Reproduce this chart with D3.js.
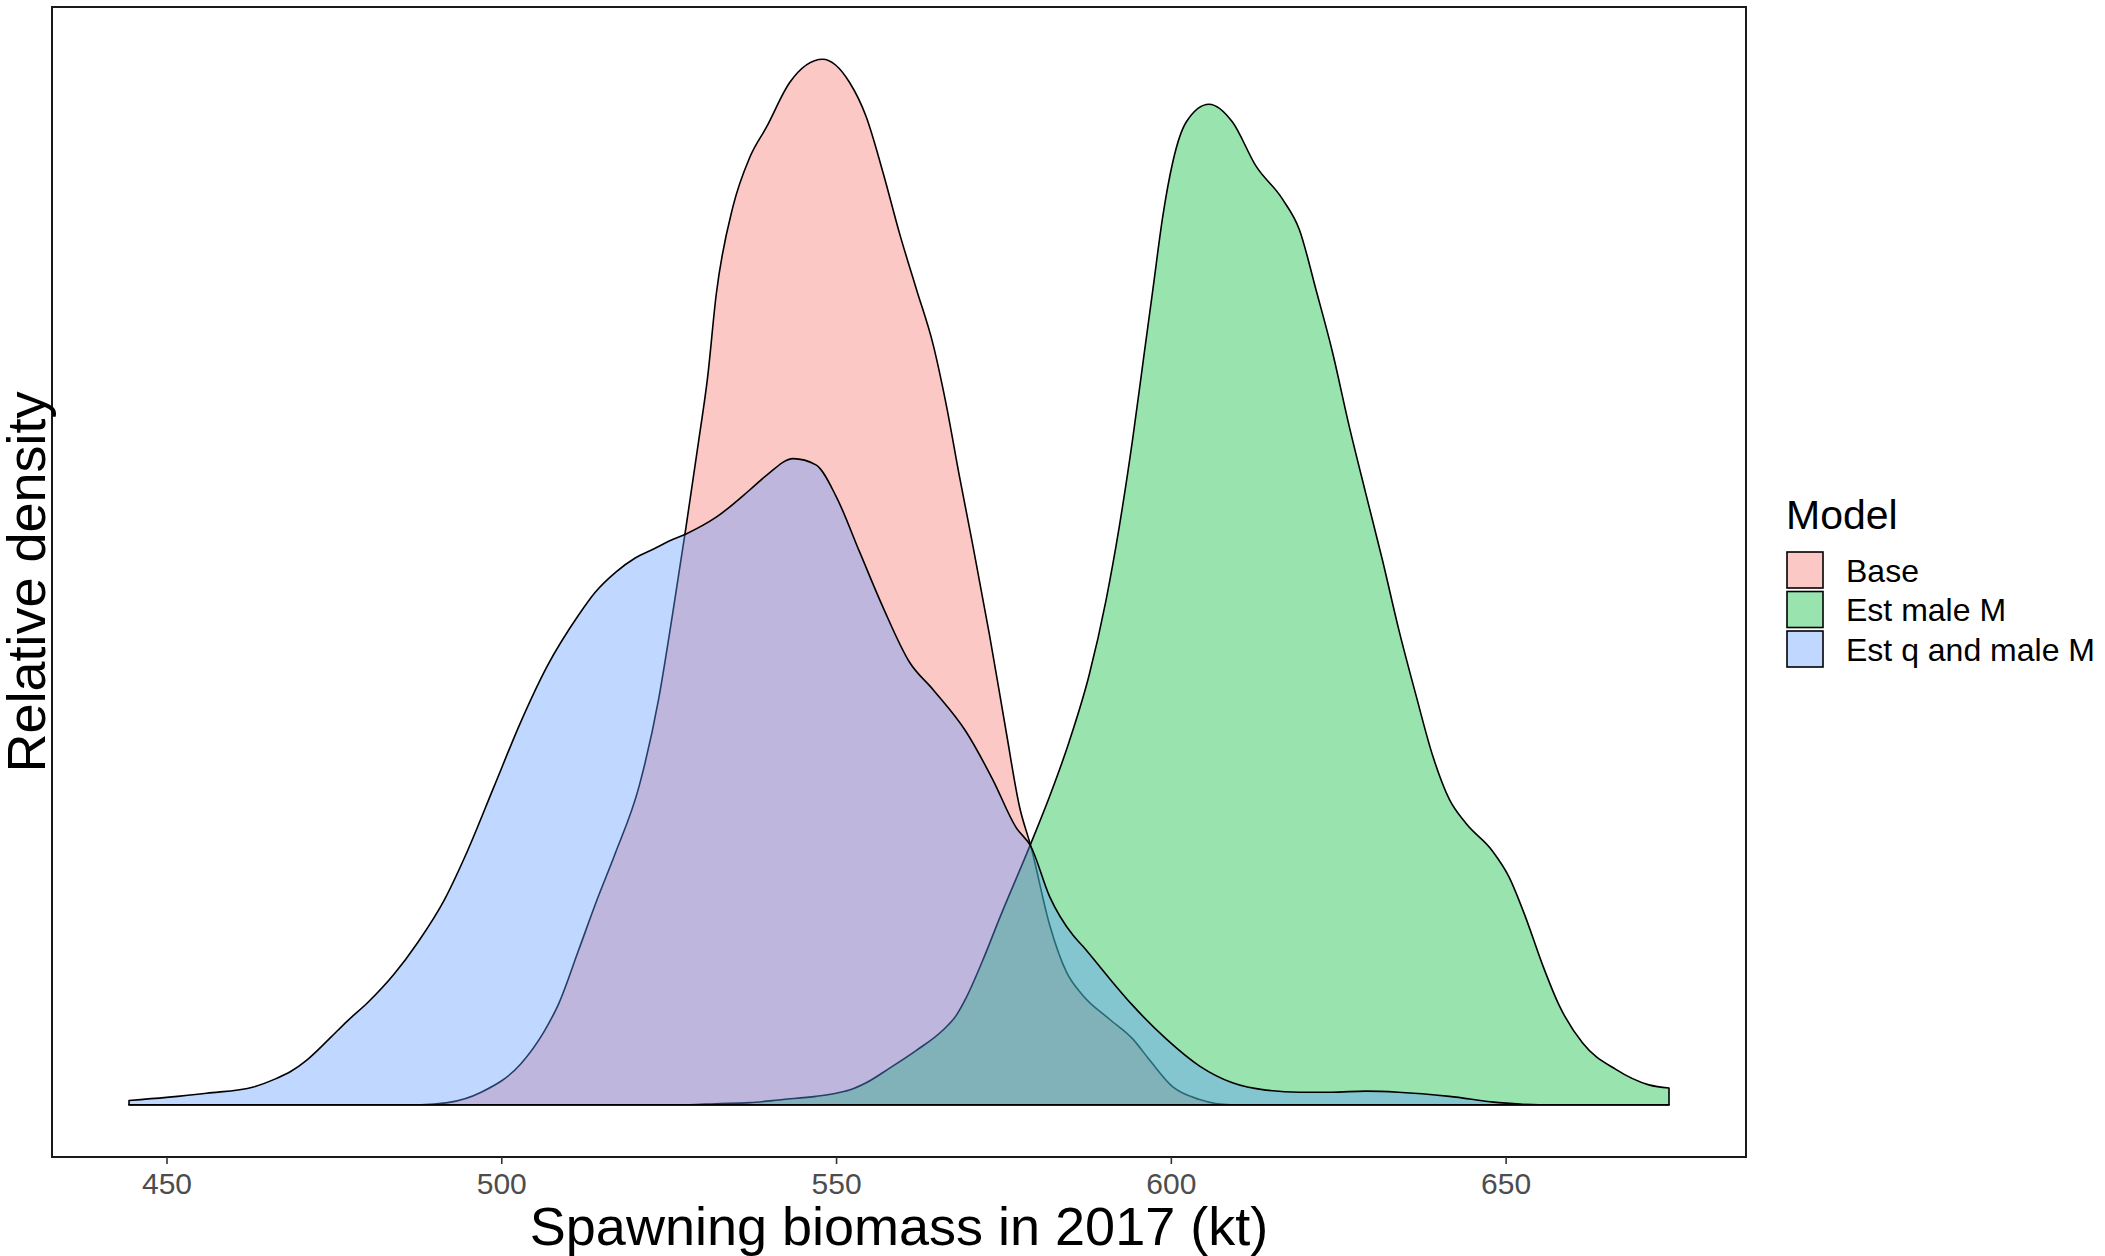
<!DOCTYPE html>
<html>
<head>
<meta charset="utf-8">
<script src="https://cdn.jsdelivr.net/npm/d3@7"></script>
<style>
  body { margin: 0; background: #fff; }
  svg { display: block; }
  text { font-family: "Liberation Sans", Arial, Helvetica, sans-serif; }
</style>
</head>
<body>
<svg id="chart" width="2105" height="1256"></svg>
<script>
// Posterior densities of spawning biomass in 2017 (kt), scaled so the tallest peak is 1
const modelNames = ["Base", "Est male M", "Est q and male M"];
const modelColors = ["#F8766D", "#00BA38", "#619CFF"];

const baseX = [444.4, 488, 492, 497, 502.9, 506.3, 508.6, 511.5, 514.3, 517, 520.6, 523.5, 525.6,
  527.6, 529.5, 530.8, 532.1, 534.6, 537.1, 539.6, 543.1, 548.0, 552.0, 554.5, 557.0, 559.5, 562.0,
  564.5, 566.5, 568.4, 570.4, 572.9, 575.4, 577.4, 579.1, 581.9, 584.4, 586.8, 590.8, 594.3, 596.8,
  600.3, 604.3, 609, 674.4];
const baseY = [0, 0, 0.002, 0.012, 0.039, 0.069, 0.097, 0.147, 0.196, 0.240, 0.305, 0.388, 0.470,
  0.553, 0.636, 0.695, 0.775, 0.859, 0.906, 0.935, 0.978, 1.000, 0.978, 0.945, 0.892, 0.833, 0.780,
  0.727, 0.668, 0.602, 0.536, 0.450, 0.357, 0.285, 0.247, 0.172, 0.127, 0.105, 0.082, 0.063, 0.043,
  0.017, 0.005, 0, 0];

const maleMX = [444.4, 528, 532, 537.1, 542.1, 547.0, 550.0, 552.0, 554.5, 558.0, 562.0, 565.9, 567.9,
  569.4, 571.9, 574.4, 579.1, 581.9, 584.8, 587.8, 590.3, 592.3, 594.3, 595.8, 597.3, 598.8, 600.3,
  602.3, 605.7, 609.2, 612.7, 616.7, 619.2, 621.7, 624.1, 626.6, 629.1, 631.6, 634.1, 636.6, 639.1,
  641.6, 644.1, 648.0, 650.5, 653.0, 655.5, 658.0, 661.5, 666.4, 671.4, 674.4];
const maleMY = [0, 0, 0.001, 0.002, 0.005, 0.008, 0.011, 0.014, 0.021, 0.035, 0.052, 0.071, 0.085,
  0.102, 0.138, 0.178, 0.250, 0.295, 0.347, 0.411, 0.482, 0.553, 0.637, 0.708, 0.779, 0.850, 0.902,
  0.940, 0.957, 0.940, 0.898, 0.866, 0.837, 0.779, 0.721, 0.650, 0.585, 0.521, 0.453, 0.392, 0.334,
  0.292, 0.269, 0.243, 0.218, 0.179, 0.134, 0.095, 0.059, 0.034, 0.019, 0.016];

const qMaleMX = [444.4, 450, 456, 463, 466, 468.6, 471, 474.3, 477, 480.1, 484, 487.5, 491.5, 494.9,
  498.9, 502.9, 506.9, 511.5, 514, 517.2, 520, 522.9, 525, 527.6, 532.1, 537.1, 539.6, 543.6, 547.0,
  550.0, 553.5, 557.0, 561.0, 564.5, 569.4, 573.4, 576.9, 579.1, 581.9, 585.4, 586.8, 590.8, 594.3,
  599.3, 604.3, 609.2, 614.2, 619.2, 624, 629.1, 634, 641.6, 649, 655, 674.4];
const qMaleMY = [0.004, 0.007, 0.011, 0.017, 0.024, 0.032, 0.043, 0.063, 0.080, 0.098, 0.125, 0.155,
  0.196, 0.242, 0.304, 0.366, 0.420, 0.468, 0.490, 0.510, 0.523, 0.532, 0.539, 0.546, 0.562, 0.588,
  0.602, 0.618, 0.612, 0.582, 0.529, 0.476, 0.423, 0.397, 0.357, 0.311, 0.265, 0.247, 0.199, 0.162,
  0.152, 0.121, 0.095, 0.063, 0.037, 0.021, 0.014, 0.012, 0.012, 0.013, 0.012, 0.008, 0.002, 0, 0];

const xTicks = [450, 500, 550, 600, 650];
const xTitle = "Spawning biomass in 2017 (kt)";
const yTitle = "Relative density";
const legendTitle = "Model";

const seriesX = [baseX, maleMX, qMaleMX];
const seriesY = [baseY, maleMY, qMaleMY];
const series = modelNames.map((name, i) => ({
  name,
  color: modelColors[i],
  points: seriesX[i].map((x, j) => ({ x, y: seriesY[i][j] }))
}));

const svg = d3.select("#chart");
const panel = { left: 52, top: 7, right: 1746, bottom: 1157 };

// continuous scales padded by 5% on each side
const allPts = series.flatMap(s => s.points);
const xExt = d3.extent(allPts, d => d.x);
const xPad = (xExt[1] - xExt[0]) * 0.05;
const yMax = d3.max(allPts, d => d.y);
const yPad = yMax * 0.05;

const x = d3.scaleLinear().domain([xExt[0] - xPad, xExt[1] + xPad]).range([panel.left, panel.right]);
const y = d3.scaleLinear().domain([-yPad, yMax + yPad]).range([panel.bottom, panel.top]);

const area = d3.area()
  .x(d => x(d.x))
  .y0(y(0))
  .y1(d => y(d.y))
  .curve(d3.curveMonotoneX);

svg.append("g")
  .selectAll("path")
  .data(series)
  .join("path")
  .attr("d", d => area(d.points))
  .attr("fill", d => d.color)
  .attr("fill-opacity", 0.4)
  .attr("stroke", "#000")
  .attr("stroke-width", 1.6)
  .attr("stroke-linejoin", "round");

// panel border
svg.append("rect")
  .attr("x", panel.left)
  .attr("y", panel.top)
  .attr("width", panel.right - panel.left)
  .attr("height", panel.bottom - panel.top)
  .attr("fill", "none")
  .attr("stroke", "#1a1a1a")
  .attr("stroke-width", 2);

// x axis
const xAxis = svg.append("g")
  .attr("transform", `translate(0,${panel.bottom})`)
  .call(d3.axisBottom(x).tickValues(xTicks).tickSize(7).tickPadding(9).tickSizeOuter(0));
xAxis.select(".domain").remove();
xAxis.selectAll(".tick line").attr("stroke", "#333333").attr("stroke-width", 1.6);
xAxis.selectAll(".tick text")
  .attr("fill", "#4D4D4D")
  .style("font-size", "30px")
  .style("font-family", "'Liberation Sans', Arial, sans-serif");

// axis titles
svg.append("text")
  .attr("x", (panel.left + panel.right) / 2)
  .attr("y", 1245)
  .attr("text-anchor", "middle")
  .style("font-size", "54px")
  .attr("fill", "#000")
  .text(xTitle);

svg.append("text")
  .attr("transform", `translate(45,${(panel.top + panel.bottom) / 2}) rotate(-90)`)
  .attr("text-anchor", "middle")
  .style("font-size", "54px")
  .attr("fill", "#000")
  .text(yTitle);

// legend
const legend = svg.append("g").attr("transform", "translate(1786,0)");
legend.append("text")
  .attr("x", 0)
  .attr("y", 529)
  .style("font-size", "41px")
  .attr("fill", "#000")
  .text(legendTitle);

const keys = legend.selectAll("g.key")
  .data(series)
  .join("g")
  .attr("class", "key")
  .attr("transform", (d, i) => `translate(0,${552 + i * 39.5})`);
keys.append("rect")
  .attr("x", 1)
  .attr("y", 0)
  .attr("width", 36)
  .attr("height", 36)
  .attr("fill", d => d.color)
  .attr("fill-opacity", 0.4)
  .attr("stroke", "#000")
  .attr("stroke-width", 1.6);
keys.append("text")
  .attr("x", 60)
  .attr("y", 29.5)
  .style("font-size", "32px")
  .attr("fill", "#000")
  .text(d => d.name);
</script>
</body>
</html>
